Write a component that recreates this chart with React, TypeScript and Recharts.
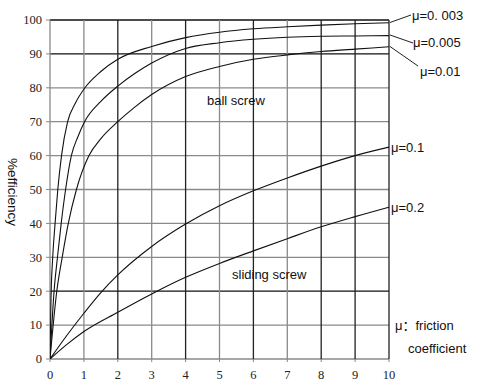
import React from "react";
import { LineChart, Line, XAxis, YAxis, ReferenceLine } from "recharts";

// Lead angle (x) and efficiency % (y)
const mu003X = [0, 0.03, 0.08, 0.15, 0.23, 0.34, 0.52, 0.75, 1.03, 1.5, 2, 3, 4, 5, 6, 7, 8, 9, 10];
const mu003Y = [0, 18, 30, 40, 50, 60, 70, 75.5, 80, 84.8, 88.4, 92.2, 94.8, 96.4, 97.4, 98, 98.5, 98.9, 99.2];

const mu005X = [0, 0.12, 0.22, 0.33, 0.46, 0.63, 0.82, 1.02, 1.5, 2, 2.5, 3, 4, 5, 6, 7, 8, 9, 10];
const mu005Y = [0, 20, 30, 40, 50, 60, 65.5, 70, 76, 80.5, 84.2, 87.3, 91.6, 93.3, 94.3, 94.9, 95.2, 95.3, 95.4];

const mu01X = [0, 0.2, 0.36, 0.54, 0.78, 1.15, 1.5, 2, 2.5, 3, 4, 5, 6, 7, 8, 9, 10];
const mu01Y = [0, 20, 30, 40, 50, 60, 65, 70, 74.3, 78, 83.3, 86.3, 88.4, 89.7, 90.7, 91.4, 92.1];

const mu1X = [0, 0.5, 1, 1.5, 2, 3, 4, 5, 6, 7, 8, 9, 10];
const mu1Y = [0, 7, 13.5, 19.6, 24.8, 33.2, 39.8, 45.2, 49.6, 53.4, 56.9, 60, 62.5];

const mu2X = [0, 0.5, 1, 2, 3, 4, 5, 6, 7, 8, 9, 10];
const mu2Y = [0, 4.3, 8.1, 13.8, 19.2, 24.1, 28.2, 31.9, 35.5, 39, 42, 44.8];

const xTicks = [0, 1, 2, 3, 4, 5, 6, 7, 8, 9, 10];
const yTicks = [0, 10, 20, 30, 40, 50, 60, 70, 80, 90, 100];

const darkX = new Set([2, 4, 6, 8, 9, 10]);
const darkY = new Set([20, 90, 100]);

const toData = (xs: number[], ys: number[]) => xs.map((x, i) => ({ x, y: ys[i] }));

const series = [
  { name: "μ=0.003", data: toData(mu003X, mu003Y) },
  { name: "μ=0.005", data: toData(mu005X, mu005Y) },
  { name: "μ=0.01", data: toData(mu01X, mu01Y) },
  { name: "μ=0.1", data: toData(mu1X, mu1Y) },
  { name: "μ=0.2", data: toData(mu2X, mu2Y) },
];

const sans = "'Liberation Sans', Arial, 'Noto Sans CJK SC', sans-serif";
const serif = "Liberation Serif";

const XTick = (props: any) => {
  const { x, y, payload } = props;
  return (
    <text x={x} y={y} dy={8.5} textAnchor="middle" fontFamily={serif} fontSize={12.5} fill="#222" style={{ fontFamily: serif }}>
      {payload.value}
    </text>
  );
};

const YTick = (props: any) => {
  const { x, y, payload } = props;
  return (
    <text x={x} y={y} dy={4.3} textAnchor="end" fontFamily={serif} fontSize={12.5} fill="#222" style={{ fontFamily: serif }}>
      {payload.value}
    </text>
  );
};

export default function App() {
  return (
    <div style={{ position: "absolute", left: 0, top: 0, width: 477, height: 392, background: "#fff" }}>
      <LineChart width={477} height={392} margin={{ top: 20, right: 88, bottom: 0, left: 0 }}>
        <XAxis
          type="number"
          dataKey="x"
          domain={[0, 10]}
          ticks={xTicks}
          allowDataOverflow
          height={33}
          axisLine={false}
          tickSize={3}
          tickMargin={8}
          tickLine={{ stroke: "#888" }}
          tick={XTick}
        />
        <YAxis
          type="number"
          domain={[0, 100]}
          ticks={yTicks}
          allowDataOverflow
          width={50}
          axisLine={false}
          tickSize={4}
          tickMargin={4}
          tickLine={{ stroke: "#888" }}
          tick={YTick}
        />
        {yTicks.map((v) => (
          <ReferenceLine key={"h" + v} y={v} stroke={darkY.has(v) ? "#111" : "#8a8a8a"} strokeWidth={1.3} />
        ))}
        {xTicks.map((v) => (
          <ReferenceLine key={"v" + v} x={v} stroke={darkX.has(v) ? "#222" : "#8a8a8a"} strokeWidth={1.3} />
        ))}
        {series.map((s) => (
          <Line
            key={s.name}
            name={s.name}
            data={s.data}
            dataKey="y"
            type="monotone"
            stroke="#111"
            strokeWidth={1.1}
            dot={false}
            isAnimationActive={false}
          />
        ))}
      </LineChart>
      <svg
        width={477}
        height={392}
        style={{ position: "absolute", left: 0, top: 0, pointerEvents: "none" }}
      >
        <g stroke="#222" strokeWidth={1}>
          <line x1={390} y1={22.5} x2={411} y2={15} />
          <line x1={390} y1={35} x2={413} y2={43} />
          <line x1={390} y1={46.5} x2={418} y2={66} />
        </g>
        <g style={{ fontFamily: sans, fontSize: 13, fill: "#111" }} dominantBaseline="central">
          <text x={412} y={15}>μ=0. 003</text>
          <text x={413} y={42}>μ=0.005</text>
          <text x={420} y={71}>μ=0.01</text>
          <text x={391} y={147}>μ=0.1</text>
          <text x={391} y={207}>μ=0.2</text>
          <text x={395} y={325}>μ：friction</text>
          <text x={408} y={348}>coefficient</text>
          <text x={207} y={100}>ball screw</text>
          <text x={232} y={274}>sliding screw</text>
          <text x={12} y={192} style={{ fontSize: 13.5 }} textAnchor="middle" transform="rotate(90 12 192)">%efficiency</text>
        </g>
      </svg>
    </div>
  );
}
